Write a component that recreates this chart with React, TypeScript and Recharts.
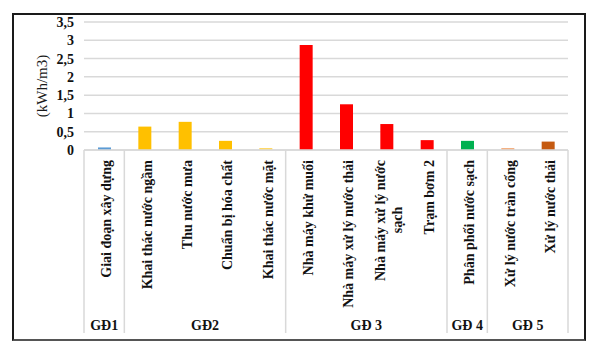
import { BarChart, Bar, XAxis, YAxis, CartesianGrid, Cell } from "recharts";

// tick labels (a "\n" marks where the original label wraps)
const categories = [
  "Giai đoạn xây dựng",
  "Khai thác nước ngầm",
  "Thu nước mưa",
  "Chuẩn bị hóa chất",
  "Khai thác nước mặt",
  "Nhà máy khử muối",
  "Nhà máy xử lý nước thải",
  "Nhà máy xử lý nước\nsạch",
  "Trạm bơm 2",
  "Phân phối nước sạch",
  "Xử lý nước tràn cống",
  "Xử lý nước thải",
];

// kWh/m3
const values = [0.07, 0.64, 0.77, 0.25, 0.03, 2.87, 1.25, 0.71, 0.27, 0.25, 0.03, 0.23];

const groupLabels = ["GĐ1", "GĐ2", "GĐ 3", "GĐ 4", "GĐ 5"];
const groupSizes = [1, 4, 4, 1, 2];

const yTicks = [0, 0.5, 1, 1.5, 2, 2.5, 3, 3.5];

const barColors = [
  "#5B9BD5",
  "#FFC000", "#FFC000", "#FFC000", "#FFD966",
  "#FF0000", "#FF0000", "#FF0000", "#FF0000",
  "#00B050",
  "#F4B183", "#C55A11",
];

const data = categories.map((name, i) => ({ name, value: values[i] }));

const W = 591;
const H = 342;
const PLOT_LEFT = 84;
const PLOT_RIGHT = 568;
const PLOT_TOP = 22;
const AXIS_Y = 150;
const SEP_BOTTOM = 333;
const band = (PLOT_RIGHT - PLOT_LEFT) / categories.length;

const groupStarts: number[] = [];
let acc = 0;
groupSizes.forEach((s) => {
  groupStarts.push(acc);
  acc += s;
});

const serif = "Liberation Serif";
const boldText = { fontFamily: serif, fontWeight: 700, fontSize: 14, fill: "#111" };

function ValueTick(props: any) {
  const { x, y, payload } = props;
  return (
    <text x={x} y={y} dy={5} textAnchor="end" style={boldText}>
      {String(payload.value).replace(".", ",")}
    </text>
  );
}

function UnitLabel() {
  const cx = 42;
  const cy = 86;
  return (
    <text
      x={cx}
      y={cy}
      transform={`rotate(-90 ${cx} ${cy})`}
      textAnchor="middle"
      dy={5}
      style={{ fontFamily: serif, fontWeight: 400, fontSize: 15, fill: "#1a1a1a" }}
    >
      (kWh/m3)
    </text>
  );
}

function CategoryTick(props: any) {
  const { x, payload } = props;
  const i = typeof props.index === "number" ? props.index : categories.indexOf(payload.value);
  const lines = String(payload.value).split("\n");
  const left = x - band / 2;
  const g = groupStarts.indexOf(i);

  return (
    <g>
      <g transform={`translate(${x},${AXIS_Y + 10})`}>
        {lines.length === 1 ? (
          <text transform="rotate(-90)" textAnchor="end" dy={7} style={boldText}>
            {lines[0]}
          </text>
        ) : (
          <>
            <text transform="rotate(-90)" textAnchor="end" dy={-2} style={boldText}>
              {lines[0]}
            </text>
            <text transform="rotate(-90)" x={-60} textAnchor="middle" dy={15} style={boldText}>
              {lines[1]}
            </text>
          </>
        )}
      </g>
      {g >= 0 && (
        <>
          <line x1={left} y1={AXIS_Y} x2={left} y2={SEP_BOTTOM} stroke="#d9d9d9" strokeWidth={1.5} />
          <text x={left + (groupSizes[g] * band) / 2} y={330} textAnchor="middle" style={boldText}>
            {groupLabels[g]}
          </text>
        </>
      )}
      {i === categories.length - 1 && (
        <line x1={left + band} y1={AXIS_Y} x2={left + band} y2={SEP_BOTTOM} stroke="#d9d9d9" strokeWidth={1.5} />
      )}
    </g>
  );
}

export default function App() {
  return (
    <div style={{ position: "absolute", left: 0, top: 0, width: W, height: H, background: "#fff" }}>
      <div
        style={{
          position: "absolute",
          left: 12,
          top: 13,
          width: 574,
          height: 328,
          boxSizing: "border-box",
          border: "2px solid #1a1a1a",
          borderBottomColor: "#555",
        }}
      />
      <BarChart
        width={W}
        height={H}
        data={data}
        margin={{ top: PLOT_TOP, right: W - PLOT_RIGHT, left: 0, bottom: 0 }}
        style={{ position: "absolute", left: 0, top: 0 }}
      >
        <CartesianGrid vertical={false} stroke="#d9d9d9" strokeWidth={1.5} />
        <XAxis
          dataKey="name"
          interval={0}
          height={H - AXIS_Y}
          tickSize={0}
          tickMargin={0}
          tickLine={false}
          axisLine={{ stroke: "#d9d9d9", strokeWidth: 1.5 }}
          tick={<CategoryTick />}
        />
        <YAxis
          width={PLOT_LEFT}
          domain={[0, 3.5]}
          ticks={yTicks}
          interval={0}
          tickSize={0}
          tickMargin={10}
          axisLine={false}
          tickLine={false}
          tick={<ValueTick />}
          label={<UnitLabel />}
        />
        <Bar dataKey="value" barSize={13} minPointSize={2} isAnimationActive={false}>
          {data.map((_, i) => (
            <Cell key={i} fill={barColors[i]} />
          ))}
        </Bar>
      </BarChart>
    </div>
  );
}
